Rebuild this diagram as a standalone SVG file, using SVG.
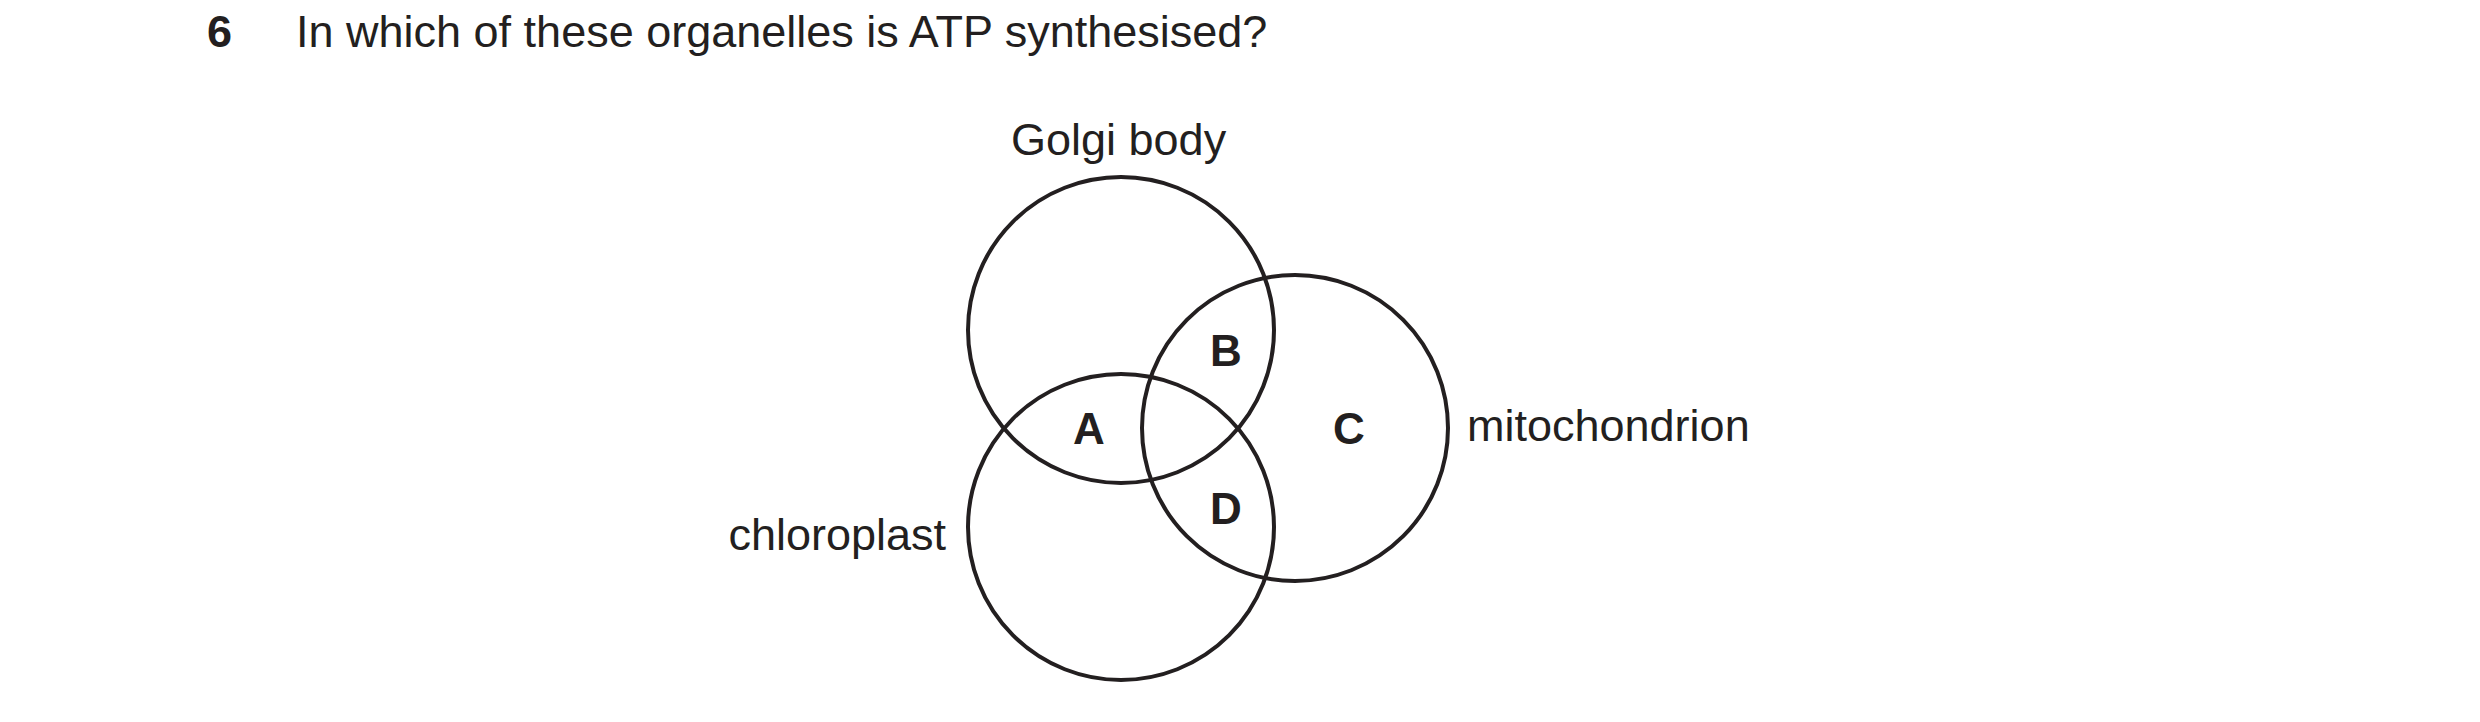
<svg xmlns="http://www.w3.org/2000/svg" width="2480" height="722" viewBox="0 0 2480 722">
<style>
text{font-family:"Liberation Sans",Arial,sans-serif;font-size:45px;fill:#231f20}
.b{font-weight:bold;text-anchor:middle;font-size:44px}
circle{fill:none;stroke:#231f20;stroke-width:4}
</style>
<rect width="2480" height="722" fill="#fff"/>
<text x="207" y="47" style="font-weight:bold">6</text>
<text x="296" y="47">In which of these organelles is ATP synthesised?</text>
<g id="golgi"><circle cx="1121" cy="330" r="153"/><text x="1011" y="155">Golgi body</text></g>
<g id="chloroplast"><circle cx="1121" cy="527" r="153"/><text x="946" y="550" text-anchor="end">chloroplast</text></g>
<g id="mitochondrion"><circle cx="1295" cy="428" r="153"/><text x="1467" y="441">mitochondrion</text></g>
<g id="labels">
<text class="b" x="1089" y="444">A</text>
<text class="b" x="1226" y="366">B</text>
<text class="b" x="1349" y="444">C</text>
<text class="b" x="1226" y="524">D</text>
</g>
</svg>
